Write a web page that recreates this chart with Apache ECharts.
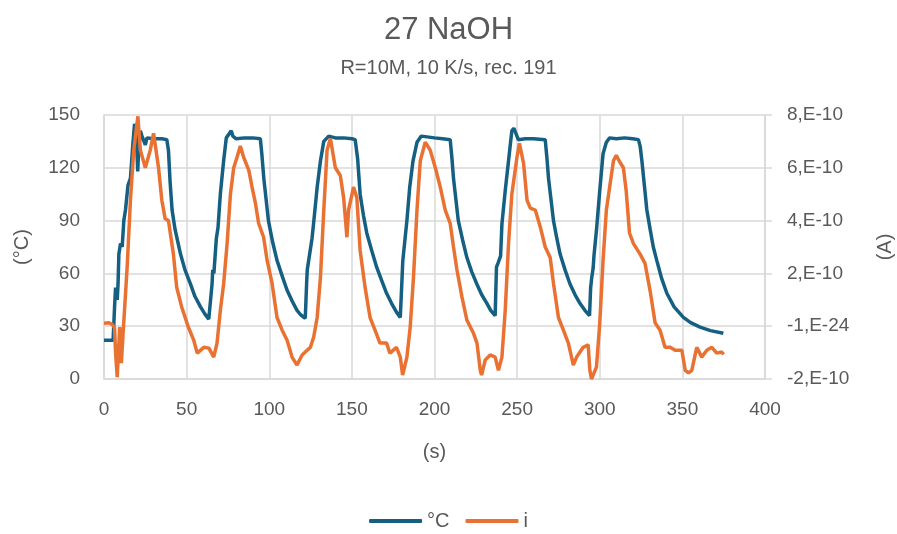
<!DOCTYPE html>
<html>
<head>
<meta charset="utf-8">
<title>27 NaOH</title>
<script src="https://cdn.jsdelivr.net/npm/echarts@6/dist/echarts.min.js"></script>
<style>
  html, body { margin: 0; padding: 0; background: #fff; }
  #main { width: 897px; height: 534px; }
</style>
</head>
<body>
<div id="main"></div>
<script>
// temperature trace (s, °C)
const tempTime = [0, 5.5, 6.4, 7, 8, 8.5, 9, 10, 11, 12, 13, 14.5, 16, 17.5, 18.5, 19.5, 20.4, 21, 22, 23, 24, 25, 26, 30, 35, 38,
  39, 40, 41.2, 43, 46.3, 49, 52.3, 55, 58.4, 61, 63.4, 64.4,
  65.4, 65.8, 66.5, 68, 69, 70.4, 72.4, 74, 77, 78, 80, 85, 90, 94.6,
  95.5, 96.7, 99.5, 102, 104.7, 108, 110.8, 114, 116.8, 119, 121.8,
  122.6, 123, 124, 125.9, 127, 129, 131, 133, 136, 140, 145, 150, 152,
  153.5, 155, 157, 159, 162, 165, 168, 171, 174, 177, 179.3,
  180.3, 180.8, 182, 183.3, 185, 187, 189.4, 192, 200, 205, 209.5,
  210.5, 211.5, 214.4, 217, 219.6, 222.5, 225.6, 228.5, 231.7, 234, 236.7,
  237.5, 238.5, 240, 240.8, 242.8, 244.8, 246.8, 248, 249.5, 250.7, 255, 260, 267,
  268, 269, 272, 274, 276, 279, 282, 285, 288, 291, 293.8,
  294.5, 295.2, 296, 296.5, 298, 300, 302, 304, 306, 310, 315, 320, 323.4,
  324.5, 325.5, 327, 328.5, 330.5, 332.4, 334.5, 337.5, 340.6, 345, 350.6, 355, 360.7, 367, 374.8];
const tempC = [22, 22, 41, 52, 45, 54, 71, 77, 75, 90, 96, 110, 114, 134, 145, 140, 118, 130, 141, 138, 139, 133, 137, 136.5, 136.5, 136,
  130, 112, 96, 85, 71, 62, 54, 47, 41, 37, 34, 33,
  54, 62, 60, 80, 86, 105, 124, 137, 141, 138, 136.5, 137, 137, 136.5,
  128, 114, 90, 78, 67.4, 58, 50.4, 44, 39, 36.5, 34.5,
  54, 62, 63, 80, 90, 109, 124, 135, 138, 137, 137, 136.5, 136,
  125, 105, 93, 83, 73, 63.5, 56, 48.7, 43, 38, 35,
  56, 67, 68, 90, 109, 124, 134.5, 138, 137, 136.5, 136,
  126, 114, 90, 79, 69, 61, 54, 48, 43, 39, 36,
  63.5, 66, 70, 88, 107, 124, 141, 142.5, 139, 136, 136.5, 136.5, 136,
  126, 114, 90, 80, 71, 62, 54, 48, 43, 39, 36,
  52, 58, 63, 70, 84.5, 107, 128, 134.5, 137, 136.5, 137, 136.5, 136,
  132, 124, 110, 96, 85, 75, 67.4, 57, 48.7, 41, 35, 32, 29.5, 27.5, 26];

// current trace (s, A in units of 1E-10)
const currTime = [0, 3, 5, 6.4, 7, 8, 9.5, 10.5, 11.5, 14, 16, 18, 20.5, 22, 25, 25.7, 28, 30, 33, 35, 37, 39, 42, 44, 47, 51,
  54.3, 56.4, 57.4, 60.4, 63.5, 66.4, 68.4, 70.4, 72.4, 74.5, 76.5, 78.5, 80.5, 82.5, 84.5, 87.6, 89.6, 91.6, 93.6,
  96.6, 98.7, 101.7, 104.7, 107.8, 110.8, 113.8, 116.8, 119.9, 122.9, 124.9, 126.9, 129, 131, 133, 135, 137,
  140, 143, 145, 146, 147, 148, 151, 153, 155, 158, 161, 164, 167, 171, 173, 177, 179.3, 180.7, 183.3, 185.3,
  187.3, 189.4, 191.4, 194.4, 197.4, 200.5, 203.5, 206.5, 209.5, 211.5, 213.6, 216.6, 219.6, 223.6, 225.7,
  227.7, 228.5, 230.7, 233.7, 236.7, 238.7, 240.8, 242.8, 244.8, 246.8, 249.9, 251.4, 253.9, 256, 258, 261,
  264, 267, 270, 272, 275, 278, 281, 284, 286, 290, 293, 294, 295, 298, 300, 302, 304, 306, 308.3, 310,
  312.3, 314.3, 316, 318, 320.4, 324.4, 327.4, 330.5, 333.5, 336.5, 339.5, 342.6, 345.6, 349.7, 351.7,
  353.7, 355.7, 358.7, 361.7, 364.8, 367.8, 370.8, 373.8, 375];
const currE10 = [0.11, 0.13, 0.07, -0.07, -1.0, -1.93, -0.03, -1.4, -0.33, 2.23, 4.77, 6.67, 7.95, 6.67, 6.0, 5.97, 6.67, 7.31, 6.0, 4.77, 4.07, 4.0, 2.73, 1.47, 0.73, -0.03,
  -0.53, -1.02, -1.09, -0.8, -0.83, -1.17, -0.64, 0.6, 1.6, 3.13, 5.0, 6.0, 6.4, 6.83, 6.4, 5.91, 5.27, 4.67, 3.89,
  3.37, 2.49, 1.63, 0.33, -0.15, -0.53, -1.17, -1.47, -1.09, -0.91, -0.8, -0.41, 0.33, 1.87, 4.4, 6.67, 7.11,
  6.0, 5.71, 4.87, 4.13, 3.37, 4.4, 5.27, 4.87, 2.87, 1.47, 0.33, -0.15, -0.64, -0.64, -1.02, -0.8, -1.17, -1.85, -1.17, -0.03,
  1.87, 4.4, 6.27, 6.97, 6.67, 6.0, 5.27, 4.4, 3.89, 3.0, 2.13, 1.11, 0.23, -0.27, -0.64,
  -1.67, -1.85, -1.28, -1.09, -1.17, -1.67, -1.17, 0.6, 3.13, 5.0, 6.4, 6.93, 6.17, 4.77, 4.47, 4.4,
  3.76, 3.0, 2.6, 1.63, 0.33, -0.15, -0.64, -1.47, -1.17, -0.8, -0.71, -1.67, -2.0, -1.55, 0.11, 2.49, 4.4, 5.27, 6.27, 6.47,
  6.2, 6.0, 5.13, 3.53, 3.13, 2.73, 2.38, 1.33, 0.13, -0.15, -0.8, -0.8, -0.91, -0.91, -1.67,
  -1.77, -1.67, -0.8, -1.17, -0.91, -0.8, -1.02, -0.98, -1.07];

const textColor = '#595959';
const gridColor = '#d9d9d9';
const font = 'Liberation Sans';

const chart = echarts.init(document.getElementById('main'));
chart.setOption({
  animation: false,
  textStyle: { fontFamily: font },
  title: {
    text: '27 NaOH',
    subtext: 'R=10M, 10 K/s, rec. 191',
    left: 'center',
    top: 10,
    itemGap: 12,
    textStyle: { fontFamily: font, fontSize: 31, fontWeight: 'normal', color: textColor },
    subtextStyle: { fontFamily: font, fontSize: 20, color: textColor }
  },
  legend: {
    bottom: -2,
    left: 'center',
    icon: 'roundRect',
    itemWidth: 53,
    itemHeight: 4,
    itemGap: 16,
    textStyle: { fontFamily: font, fontSize: 20, color: textColor },
    data: ['°C', 'i']
  },
  grid: { left: 104, right: 132, top: 115, bottom: 155, outerBoundsMode: 'none' },
  xAxis: {
    type: 'value',
    min: 0, max: 400, interval: 50,
    name: '(s)',
    nameLocation: 'middle',
    nameGap: 63,
    nameTextStyle: { fontSize: 20, color: textColor },
    axisLine: { show: true, lineStyle: { color: gridColor, width: 1.5 } },
    axisTick: { show: false },
    axisLabel: { fontSize: 19, color: textColor, margin: 21 },
    splitLine: { show: true, lineStyle: { color: gridColor, width: 1.5 } }
  },
  yAxis: [{
    type: 'value',
    min: 0, max: 150, interval: 30,
    name: '(°C)',
    nameLocation: 'middle',
    nameRotate: 90,
    nameGap: 72,
    nameTextStyle: { fontSize: 20, color: textColor },
    axisLine: { show: true, lineStyle: { color: gridColor, width: 1.5 } },
    axisTick: { show: false },
    axisLabel: { fontSize: 19, color: textColor, margin: 24 },
    splitLine: { show: true, lineStyle: { color: gridColor, width: 1.5 } }
  }, {
    type: 'value',
    position: 'right',
    min: -2, max: 8, interval: 2,
    name: '(A)',
    nameLocation: 'middle',
    nameRotate: 90,
    nameGap: 110,
    nameTextStyle: { fontSize: 20, color: textColor },
    axisLine: { show: true, lineStyle: { color: gridColor, width: 1.5 } },
    axisTick: { show: true, length: 7, lineStyle: { color: gridColor, width: 1.5 } },
    axisLabel: {
      fontSize: 19, color: textColor, margin: 22,
      formatter: v => (v === 0 ? '-1,E-24' : v + ',E-10')
    },
    splitLine: { show: false }
  }],
  series: [{
    name: '°C',
    type: 'line',
    yAxisIndex: 0,
    symbol: 'none',
    lineStyle: { color: '#156082', width: 3.5 },
    itemStyle: { color: '#156082' },
    data: tempTime.map((t, k) => [t, tempC[k]])
  }, {
    name: 'i',
    type: 'line',
    yAxisIndex: 1,
    symbol: 'none',
    lineStyle: { color: '#e97132', width: 3.5 },
    itemStyle: { color: '#e97132' },
    data: currTime.map((t, k) => [t, currE10[k]])
  }]
});
</script>
</body>
</html>
